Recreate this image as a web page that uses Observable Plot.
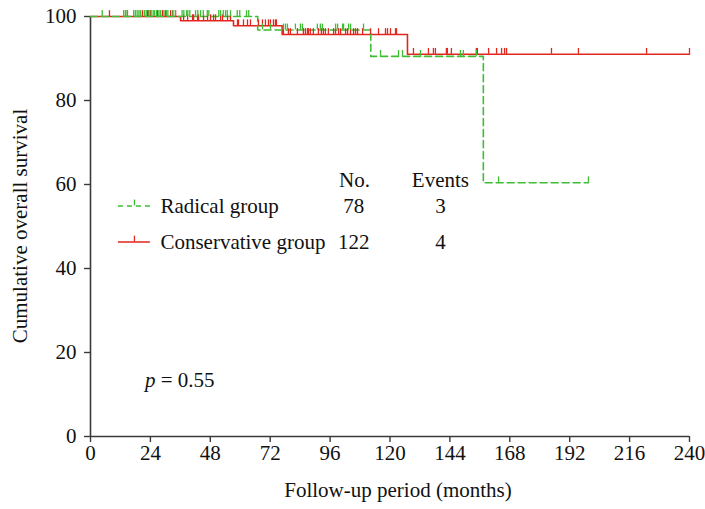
<!DOCTYPE html>
<html>
<head>
<meta charset="utf-8">
<script src="https://cdn.jsdelivr.net/npm/d3@7"></script>
<script src="https://cdn.jsdelivr.net/npm/@observablehq/plot@0.6"></script>
<style>
  html, body { margin: 0; padding: 0; background: #fff; }
  #chart { width: 705px; height: 509px; }
</style>
</head>
<body>
<div id="chart"></div>
<script>
// ---- data ----
const groups = ["Radical group", "Conservative group"];
const counts = [78, 122];
const eventCounts = [3, 4];

const radicalEventTimes = [67, 112.3, 157.4];
const radicalEventSurv = [96.8, 90.5, 60.4];
const radicalEnd = 199.5;
const radicalCensored = [
  4.7, 13.3, 14.0, 14.7, 17.3, 18.0, 18.7, 19.4, 20.0, 21.6, 22.3, 23.4, 24.3, 25.1, 25.6,
  26.4, 27.4, 28.0, 29.4, 30.4, 31.0, 33.0, 34.0, 36.7, 37.4, 38.5, 39.0, 39.8, 42.1, 43.0,
  44.1, 45.2, 46.8, 47.4, 51.4, 52.1, 53.2, 54.1, 54.8, 56.1, 58.8, 59.8, 62.5, 63.4,
  68.9, 72.1, 77.3, 78.1, 78.9, 82.1, 84.1, 84.9, 90.9, 92.1, 92.9, 98.2, 99.0, 101.0,
  101.4, 103.4, 104.2, 109.4,
  116.2, 123.4, 125.0, 132.2, 148.2, 149.4, 154.6,
  163.5, 199.5
];

const conservativeEventTimes = [36.1, 57.3, 76.8, 127.0];
const conservativeEventSurv = [99.0, 97.8, 95.7, 91.0];
const conservativeEnd = 240;
const conservativeCensored = [
  7.6, 14.8, 20.8, 22.8, 23.2, 24.0, 26.8, 28.8, 30.0, 32.1, 32.9, 34.1,
  37.3, 38.9, 40.9, 41.3, 42.9, 43.3, 45.3, 46.9, 48.1, 49.3, 50.1, 52.1, 52.9, 54.9, 56.1,
  58.9, 59.3, 61.3, 62.9, 64.1, 67.3, 68.9, 70.1, 71.3, 72.1, 73.3, 74.1, 74.5,
  77.3, 79.3, 80.1, 82.9, 85.3, 86.1, 86.9, 87.3, 88.1, 89.3, 91.3, 92.5, 93.3, 94.1, 95.3,
  97.4, 98.2, 99.4, 100.2, 102.2, 103.0, 104.2, 105.4, 106.2, 107.0, 109.0, 112.2, 115.4,
  118.2, 119.0, 120.2, 122.2, 122.6,
  129.4, 135.4, 137.4, 138.2, 142.6, 143.0, 144.6, 154.6, 155.0, 159.5, 162.7, 164.7,
  165.9, 166.7, 184.7, 195.5, 222.8, 240
];

const xTicks = [0, 24, 48, 72, 96, 120, 144, 168, 192, 216, 240];
const yTicks = [0, 20, 40, 60, 80, 100];
const pValue = "0.55";
const xTitle = "Follow-up period (months)";
const yTitle = "Cumulative overall survival";

// ---- styling ----
const GREEN = "#3fbe35";
const RED = "#e2261e";
const AXIS = "#3a3a3a";
const FONT = "'Liberation Serif', 'Times New Roman', serif";
const FS = 21;

// ---- build KM step lines ----
function stepPoints(times, surv, end, group) {
  const pts = [{t: 0, s: 100, group}];
  times.forEach((t, i) => pts.push({t, s: surv[i], group}));
  pts.push({t: end, s: surv[surv.length - 1], group});
  return pts;
}
function survAt(times, surv, t) {
  let s = 100;
  times.forEach((et, i) => { if (et <= t) s = surv[i]; });
  return s;
}
const radLine = stepPoints(radicalEventTimes, radicalEventSurv, radicalEnd, groups[0]);
const conLine = stepPoints(conservativeEventTimes, conservativeEventSurv, conservativeEnd, groups[1]);
const radCens = radicalCensored.map(t => ({t, s: survAt(radicalEventTimes, radicalEventSurv, t)}));
const conCens = conservativeCensored.map(t => ({t, s: survAt(conservativeEventTimes, conservativeEventSurv, t)}));

// legend rows (annotation, in data space)
const legendRows = groups.map((g, i) => ({
  group: g, n: counts[i], ev: eventCounts[i],
  y: i === 0 ? 54.9 : 46.3,
  color: i === 0 ? GREEN : RED
}));
const TICK_H = 1.4;

const chart = Plot.plot({
  width: 705,
  height: 509,
  marginTop: 16,
  marginRight: 16,
  marginBottom: 73,
  marginLeft: 90,
  style: {fontFamily: FONT, fontSize: FS + "px", color: AXIS, background: "#fff"},
  x: {domain: [0, 240]},
  y: {domain: [0, 100]},
  marks: [
    Plot.axisX({ticks: xTicks, tickSize: 6, tickPadding: 3, tickFormat: d => d, label: null, stroke: AXIS, strokeWidth: 1.4, fill: "#111", fontSize: FS}),
    Plot.axisY({ticks: yTicks, tickSize: 6, tickPadding: 8, tickFormat: d => d, label: null, stroke: AXIS, strokeWidth: 1.4, fill: "#111", fontSize: FS}),
    Plot.ruleY([0], {stroke: AXIS, strokeWidth: 1.6}),
    Plot.ruleX([0], {stroke: AXIS, strokeWidth: 1.6}),
    // curves
    Plot.line(conLine, {x: "t", y: "s", curve: "step-after", stroke: RED, strokeWidth: 1.6}),
    Plot.line(radLine, {x: "t", y: "s", curve: "step-after", stroke: GREEN, strokeWidth: 1.6, strokeDasharray: "7,4"}),
    // censor marks
    Plot.ruleX(conCens, {x: "t", y1: "s", y2: d => d.s + TICK_H, stroke: RED, strokeWidth: 1.3}),
    Plot.ruleX(radCens, {x: "t", y1: "s", y2: d => d.s + TICK_H, stroke: GREEN, strokeWidth: 1.3}),
    // legend samples
    Plot.ruleY([legendRows[0]], {y: "y", x1: 11.2, x2: 24.0, stroke: GREEN, strokeWidth: 1.5, strokeDasharray: "5,4"}),
    Plot.ruleY([legendRows[1]], {y: "y", x1: 11.2, x2: 24.0, stroke: RED, strokeWidth: 1.5}),
    Plot.ruleX(legendRows, {x: 17.6, y1: "y", y2: d => d.y + TICK_H, stroke: "color", strokeWidth: 1.3}),
    Plot.text(legendRows, {x: 28, y: "y", text: "group", textAnchor: "start", fill: "#111", fontSize: FS}),
    Plot.text(legendRows, {x: 105.5, y: "y", text: d => String(d.n), fill: "#111", fontSize: FS}),
    Plot.text(legendRows, {x: 140.2, y: "y", text: d => String(d.ev), fill: "#111", fontSize: FS}),
    Plot.text(["No."], {x: 105.8, y: 60.9, fill: "#111", fontSize: FS}),
    Plot.text(["Events"], {x: 140.2, y: 60.9, fill: "#111", fontSize: FS}),
    // x axis title
    Plot.text([xTitle], {frameAnchor: "bottom", dx: 8, dy: 60, fill: "#111", fontSize: FS})
  ]
});
document.getElementById("chart").appendChild(chart);

const sx = chart.scale("x"), sy = chart.scale("y");
const svg = d3.select(chart);

// y axis title, centred on the y range
const yMid = (sy.apply(0) + sy.apply(100)) / 2;
svg.append("text")
  .attr("transform", `translate(${sx.apply(0) - 70},${yMid}) rotate(-90)`)
  .attr("dy", "0.32em")
  .attr("text-anchor", "middle")
  .attr("font-family", FONT)
  .attr("font-size", FS)
  .attr("fill", "#111")
  .text(yTitle);

// p-value annotation with italic p, placed through the chart's scales
const pt = svg.append("text")
  .attr("x", sx.apply(22))
  .attr("y", sy.apply(13.3))
  .attr("dy", "0.32em")
  .attr("text-anchor", "start")
  .attr("font-family", FONT)
  .attr("font-size", FS)
  .attr("fill", "#111");
pt.append("tspan").attr("font-style", "italic").text("p");
pt.append("tspan").text(" = " + pValue);
</script>
</body>
</html>
